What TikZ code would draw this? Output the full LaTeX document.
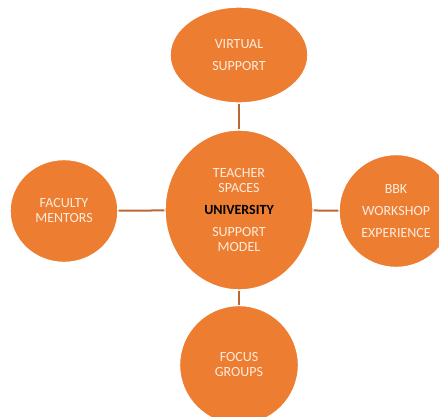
\documentclass[tikz,border=0pt]{standalone}
\usepackage{fontspec}
\setmainfont{Carlito}
\usepackage{tikz}
\usetikzlibrary{shapes.geometric, arrows}
\definecolor{accent}{HTML}{ED7D31}
\definecolor{linkcol}{RGB}{186,104,52}
\definecolor{labelcol}{RGB}{253,236,222}

\begin{document}
\begin{tikzpicture}[x=1pt,y=-1pt,-,thick,
    main node/.style={ellipse, inner sep=0pt, fill=accent, draw=white, line width=1.4pt,
        text=labelcol, align=center, font=\fontsize{14}{15}\selectfont},
    link/.style={draw=linkcol, line width=2pt}]
            \useasboundingbox (0,0) rectangle (439,417);
            \node[main node, minimum width=148, minimum height=160] (hub) at (239,210)
                {TEACHER\\SPACES\\[7pt]{\bfseries\color{black}UNIVERSITY}\\[7pt]SUPPORT\\MODEL};
            \node[main node, minimum width=138, minimum height=96] (virtual) at (239,55)
                {VIRTUAL\\[7pt]SUPPORT};
            \node[main node, minimum width=108, minimum height=103] (mentors) at (64,211)
                {FACULTY\\MENTORS};
            \node[main node, minimum width=114, minimum height=113] (bbk) at (396,211)
                {BBK\\[7pt]WORKSHOP\\[7pt]EXPERIENCE};
            \node[main node, minimum width=119, minimum height=119] (focus) at (239,365)
                {FOCUS\\GROUPS};
            \path[every edge/.style={link}]
            (virtual) edge (hub)
            (mentors) edge (hub)
            (hub) edge (bbk)
            (hub) edge (focus);
        \end{tikzpicture}
\end{document}
